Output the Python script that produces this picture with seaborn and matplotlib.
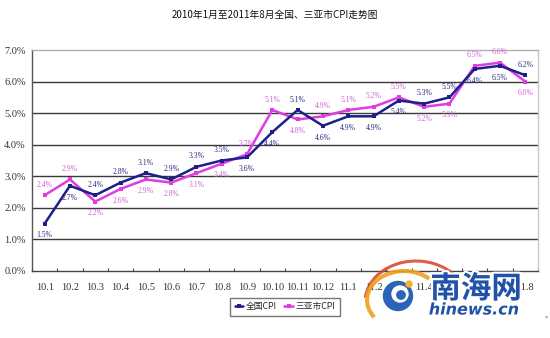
import numpy as np
import pandas as pd
import matplotlib
matplotlib.use("Agg")
import matplotlib.pyplot as plt
import seaborn as sns
from matplotlib.patches import Arc, Circle
import matplotlib.patheffects as pe

# Monthly CPI, Jan 2010 – Aug 2011
months = ["10.1", "10.2", "10.3", "10.4", "10.5", "10.6", "10.7", "10.8", "10.9", "10.10",
          "10.11", "10.12", "11.1", "11.2", "11.3", "11.4", "11.5", "11.6", "11.7", "11.8"]
national_cpi = [1.5, 2.7, 2.4, 2.8, 3.1, 2.9, 3.3, 3.5, 3.6, 4.4,
                5.1, 4.6, 4.9, 4.9, 5.4, 5.3, 5.5, 6.4, 6.5, 6.2]
sanya_cpi = [2.4, 2.9, 2.2, 2.6, 2.9, 2.8, 3.1, 3.4, 3.7, 5.1,
             4.8, 4.9, 5.1, 5.2, 5.5, 5.2, 5.3, 6.5, 6.6, 6.0]
# label side for each point: +1 above, -1 below
national_side = [-1, -1, 1, 1, 1, 1, 1, 1, -1, -1, 1, -1, -1, -1, -1, 1, 1, -1, -1, 1]
sanya_side = [1, 1, -1, -1, -1, -1, -1, -1, 1, 1, -1, 1, 1, 1, 1, -1, -1, 1, 1, -1]
series_names = ["全国CPI", "三亚市CPI"]
y_ticks = [0, 1, 2, 3, 4, 5, 6, 7]
title = "2010年1月至2011年8月全国、三亚市CPI走势图"

line_colors = {"全国CPI": "#1f1f8c", "三亚市CPI": "#e03ce0"}
label_colors = {"全国CPI": "#2a2a88", "三亚市CPI": "#d062d0"}

df = pd.DataFrame({
    "pos": list(range(len(months))) * 2,
    "value": national_cpi + sanya_cpi,
    "series": [series_names[0]] * len(months) + [series_names[1]] * len(months),
})

sns.set_theme(style="white")
plt.rcParams["font.family"] = ["Liberation Serif", "Noto Sans CJK SC"]

W, H = 550, 338
fig = plt.figure(figsize=(W / 100, H / 100), dpi=100)
ax = fig.add_axes([32 / W, 1 - 271 / H, (538 - 32) / W, (271 - 50) / H])

sns.lineplot(data=df, x="pos", y="value", hue="series", hue_order=series_names,
             palette=line_colors, marker="s", markersize=2.6, markeredgewidth=0,
             linewidth=1.8, ax=ax)
# national series on top
for ln in ax.lines:
    if ln.get_color() == line_colors["全国CPI"]:
        ln.set_zorder(4)

ax.set_xlim(-0.5, len(months) - 0.5)
ax.set_ylim(0, 7)
ax.set_xticks(range(len(months)))
ax.set_xticklabels(months, fontsize=7.5, color="#333333")
ax.set_xticks(np.arange(-0.5, len(months)), minor=True)
ax.set_yticks(y_ticks)
ax.set_yticklabels([f"{v:.1f}%" for v in y_ticks], fontsize=7.5, color="#333333")
ax.tick_params(axis="x", which="major", length=0, pad=8.5)
ax.tick_params(axis="x", which="minor", direction="in", length=2.5, width=0.8,
               color="#444444", bottom=True)
ax.tick_params(axis="y", length=0, pad=4.5)
ax.set_xlabel("")
ax.set_ylabel("")

for v in y_ticks[1:-1]:
    ax.axhline(v, color="#3a3a3a", linewidth=1.0, zorder=1)
ax.spines["left"].set_color("#555555")
ax.spines["bottom"].set_color("#444444")
ax.spines["top"].set_color("#b0b0b0")
ax.spines["right"].set_color("#c8c8c8")
for s in ax.spines.values():
    s.set_linewidth(1.0)

# value labels
for name, vals, sides in [(series_names[0], national_cpi, national_side),
                          (series_names[1], sanya_cpi, sanya_side)]:
    for i, (v, sd) in enumerate(zip(vals, sides)):
        ax.annotate(f"{v:.1f}%", (i, v), xytext=(0, 7.5 if sd > 0 else -8.5),
                    textcoords="offset points", ha="center", va="center",
                    fontsize=5.5, color=label_colors[name], zorder=6)

sns.move_legend(ax, "center", bbox_to_anchor=(285 / W, 1 - 307 / H),
                bbox_transform=fig.transFigure, ncol=2, title=None, frameon=True,
                prop={"family": ["Noto Sans CJK SC"], "size": 6.3},
                handlelength=1.0, handletextpad=0.3, columnspacing=0.8,
                borderpad=0.5, fancybox=False, edgecolor="#555555")

fig.text(275 / W, 1 - 15 / H, title, ha="center", va="center", fontsize=7,
         family=["Noto Sans CJK SC"], color="#111111")

# site watermark
ov = fig.add_axes([0, 0, 1, 1], zorder=10)
ov.set_xlim(0, W)
ov.set_ylim(H, 0)
ov.axis("off")
ov.add_patch(Arc((416, 302), 102, 82, theta1=185, theta2=330, color="#d8402a",
                 linewidth=2.2, alpha=0.85))
ov.add_patch(Arc((404, 300), 74, 58, theta1=150, theta2=320, color="#f0a020",
                 linewidth=3.0, alpha=0.9))
ov.add_patch(Circle((398, 296), 14.5, color="#2a63b8"))
ov.add_patch(Circle((400, 294), 8, color="white"))
ov.add_patch(Circle((401, 295), 4.2, color="#2a63b8"))
ov.add_patch(Circle((409, 284), 3, color="#f4b030"))
halo = [pe.withStroke(linewidth=3, foreground="white")]
ov.text(476, 289, "南海网", ha="center", va="center", fontsize=22, fontweight="bold",
        family=["Noto Sans CJK SC"], color="#1f52a8", path_effects=halo)
ov.text(474, 310, "hinews.cn", ha="center", va="center", fontsize=11.5,
        fontweight="bold", fontstyle="italic", family=["DejaVu Sans"],
        color="#1f52a8", path_effects=halo)
ov.text(546, 318, "*", ha="center", va="center", fontsize=5, color="#666666")

fig.savefig("out.png", dpi=100, facecolor="white")
